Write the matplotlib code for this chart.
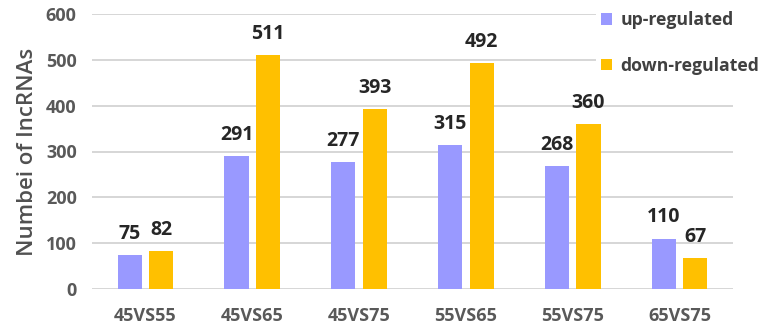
import matplotlib
matplotlib.use("Agg")
import matplotlib.pyplot as plt
import numpy as np

categories = ["45VS55", "45VS65", "45VS75", "55VS65", "55VS75", "65VS75"]
up_regulated = [75, 291, 277, 315, 268, 110]
down_regulated = [82, 511, 393, 492, 360, 67]

plt.rcParams['font.family'] = ['Open Sans', 'DejaVu Sans']

fig = plt.figure(figsize=(7.65, 3.26), dpi=100)
ax = fig.add_axes([92/765, 1-289/326, (733-92)/765, (289-14)/326])

x = np.arange(len(categories))
w = 0.225
gap = 0.035
b1 = ax.bar(x - w/2 - gap, up_regulated, w, color="#9999FF", label="up-regulated", zorder=3)
b2 = ax.bar(x + w/2 + gap, down_regulated, w, color="#FFC000", label="down-regulated", zorder=3)

for bars in (b1, b2):
    for r in bars:
        ax.annotate(str(int(r.get_height())), (r.get_x() + r.get_width()/2, r.get_height()),
                    xytext=(0, 8), textcoords="offset points", ha="center", va="bottom",
                    fontsize=14, fontweight="bold", color="#262626")

ax.set_xlim(-0.5, len(categories) - 0.5)
ax.set_ylim(0, 600)
ax.set_yticks(range(0, 601, 100))
ax.set_xticks(x)
ax.set_xticklabels(categories)
ax.tick_params(axis="both", length=0, labelsize=13, labelcolor="#595959")
ax.tick_params(axis="x", pad=13)
ax.tick_params(axis="y", pad=11)
for lab in ax.get_xticklabels() + ax.get_yticklabels():
    lab.set_fontweight("bold")
ax.grid(axis="y", color="#D0D0D0", linewidth=1.2, zorder=0)
for s in ax.spines.values():
    s.set_visible(False)
ax.set_ylabel("Numbei of lncRNAs", fontsize=16, color="#505050", fontweight="semibold", labelpad=6)

leg = ax.legend(loc="upper left", bbox_to_anchor=(596/765, 1 - 6/326), bbox_transform=fig.transFigure,
                frameon=True, fontsize=12.7, handlelength=0.6, handleheight=0.6, handletextpad=0.5,
                labelspacing=1.55, borderaxespad=0, borderpad=0.3)
leg.get_frame().set_facecolor("white")
leg.get_frame().set_edgecolor("none")
leg.get_frame().set_alpha(1)
for t in leg.get_texts():
    t.set_fontweight("bold")
    t.set_color("#404040")

fig.savefig("out.png", dpi=100)
